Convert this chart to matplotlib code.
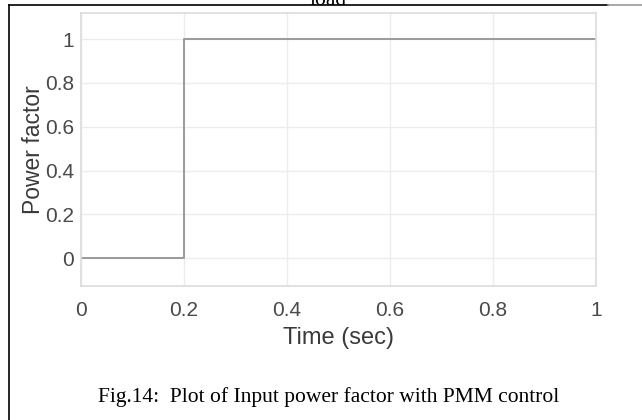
import matplotlib
matplotlib.use("Agg")
import matplotlib.pyplot as plt
from matplotlib.lines import Line2D

# step in power factor at t = 0.2 s
time = [0, 0.2, 1]
pf = [0, 1, 1]
xticks = [0, 0.2, 0.4, 0.6, 0.8, 1]
yticks = [0, 0.2, 0.4, 0.6, 0.8, 1]
ticklabels = ["0", "0.2", "0.4", "0.6", "0.8", "1"]

sans = "Liberation Sans"

fig = plt.figure(figsize=(6.42, 4.2), dpi=100)
ax = fig.add_axes([81/642, 1-286/420, 515/642, 273/420])

ax.step(time, pf, where="post", color="#9a9a9a", lw=1.4)
ax.set_xlim(0, 1)
ax.set_ylim(-0.128, 1.12)
ax.set_xticks(xticks)
ax.set_xticklabels(ticklabels)
ax.set_yticks(yticks)
ax.set_yticklabels(ticklabels)
ax.grid(True, color="#ececec", lw=1)
ax.set_axisbelow(True)
for s in ax.spines.values():
    s.set_color("#dcdcdc")
    s.set_linewidth(1.2)
ax.tick_params(length=0, labelsize=15, colors="#4a4a4a")
ax.tick_params(axis="x", pad=11)
ax.tick_params(axis="y", pad=5)
for lab in ax.get_xticklabels() + ax.get_yticklabels():
    lab.set_family(sans)
ax.set_xlabel("Time (sec)", family=sans, fontsize=17, color="#3a3a3a", va="center")
ax.set_ylabel("Power factor", family=sans, fontsize=16.5, color="#3a3a3a", va="center")
ax.xaxis.set_label_coords(0.5, -(338-286)/273)
ax.yaxis.set_label_coords((34-81)/515, 0.5)

fig.text(329/642, 1-397/420, "Fig.14:  Plot of Input power factor with PMM control",
         family="Liberation Serif", fontsize=15.5, ha="center", va="center")
fig.text(328/642, 1-5/420, "load", family="Liberation Serif", fontsize=15.5,
         ha="center", va="baseline")

# page frame lines
fig.add_artist(Line2D([9/642, 608/642], [1-5/420, 1-5/420], color="black", lw=1.2))
fig.add_artist(Line2D([608/642, 1], [1-5/420, 1-5/420], color="#999999", lw=1.2))
fig.add_artist(Line2D([9/642, 9/642], [0, 1-5/420], color="black", lw=1.2))

fig.savefig("out.png", dpi=100)
